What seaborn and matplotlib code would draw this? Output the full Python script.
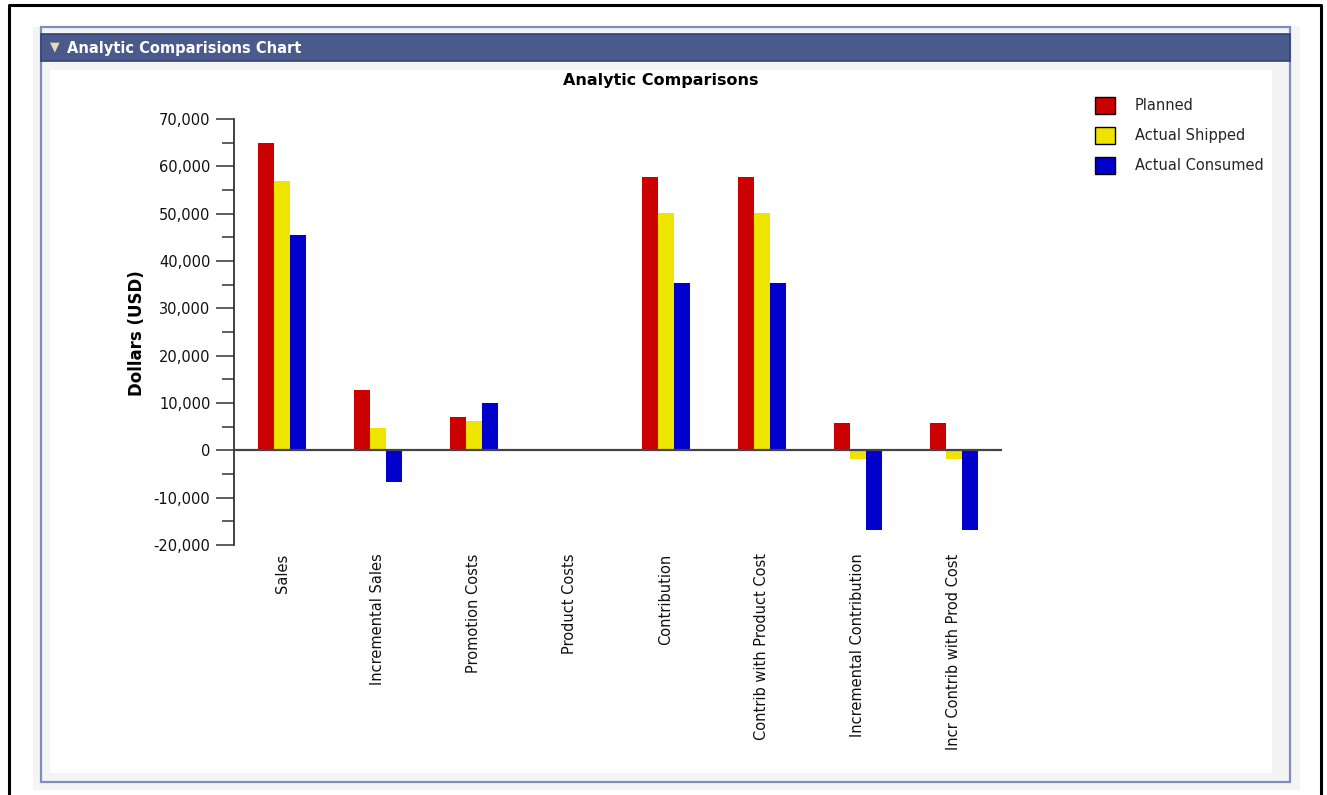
import pandas as pd
import matplotlib
matplotlib.use("Agg")
import matplotlib.pyplot as plt
import seaborn as sns
from matplotlib.patches import Rectangle, Patch
from matplotlib.lines import Line2D
from matplotlib.ticker import MultipleLocator, FuncFormatter

# Data
categories = ["Sales", "Incremental Sales", "Promotion Costs", "Product Costs",
              "Contribution", "Contrib with Product Cost", "Incremental Contribution",
              "Incr Contrib with Prod Cost"]
series = ["Planned", "Actual Shipped", "Actual Consumed"]
planned = [65000, 12800, 7000, 0, 57700, 57700, 5700, 5700]
actual_shipped = [56800, 4700, 6300, 0, 50200, 50200, -1800, -1800]
actual_consumed = [45400, -6700, 9900, 0, 35400, 35400, -16800, -16800]
colors = ["#CC0000", "#EEE400", "#0000CC"]

df = pd.DataFrame({
    "category": categories * 3,
    "series": [s for s in series for _ in categories],
    "value": planned + actual_shipped + actual_consumed,
})

W, H = 1327, 795
sns.set_theme(style="white")
plt.rcParams["font.family"] = ["DejaVu Sans"]

fig = plt.figure(figsize=(W / 100, H / 100), dpi=100)
fig.patch.set_facecolor("white")


def box(x0, y0, x1, y1):
    # pixel box (top-left origin) -> figure fraction
    return (x0 / W, 1 - y1 / H), (x1 - x0) / W, (y1 - y0) / H


def add_rect(x0, y0, x1, y1, z, **kw):
    xy, w, h = box(x0, y0, x1, y1)
    fig.patches.append(Rectangle(xy, w, h, transform=fig.transFigure, zorder=z, **kw))


def add_line(xs, ys, **kw):
    fig.lines.append(Line2D([x / W for x in xs], [1 - y / H for y in ys],
                            transform=fig.transFigure, zorder=-1, **kw))


# page frame
add_line([9, 9, 1321, 1321], [795, 5, 5, 795], color="black", lw=2.2)
add_rect(33, 27, 1300, 790, -5, facecolor="#f4f4f4", edgecolor="none")
add_rect(41, 27, 1290, 782, -4, facecolor="#f4f4f4", edgecolor="#7f8dbd", lw=1.6)
add_rect(41, 34, 1290, 61, -3, facecolor="#4a5a8c", edgecolor="#34436f", lw=1.2)
add_rect(50, 70, 1272, 773, -2, facecolor="white", edgecolor="none")
fig.text(55 / W, 1 - 47 / H, "\u25bc", color="#e6ddb5", fontsize=9, ha="center", va="center")
fig.text(67 / W, 1 - 48 / H, "Analytic Comparisions Chart", color="white",
         fontsize=10.5, fontweight="bold", ha="left", va="center")

# axes
ax = fig.add_axes([234 / W, 1 - 545 / H, 768 / W, 426 / H])
ax.set_facecolor("none")
sns.barplot(data=df, x="category", y="value", hue="series", order=categories,
            hue_order=series, palette=colors, width=0.494, saturation=1,
            linewidth=0, legend=False, ax=ax)

ax.set_xlim(-0.5, 7.5)
ax.set_ylim(-20000, 70000)
ax.yaxis.set_major_locator(MultipleLocator(10000))
ax.yaxis.set_minor_locator(MultipleLocator(5000))
ax.yaxis.set_major_formatter(FuncFormatter(lambda v, p: f"{v:,.0f}"))
ax.tick_params(axis="y", which="major", left=True, length=12.7, width=1.1,
               color="#333333", labelsize=10.5, labelcolor="#111111", pad=4.3)
ax.tick_params(axis="y", which="minor", left=True, length=9, width=1.1, color="#333333")
ax.tick_params(axis="x", length=0, labelsize=10.5, labelcolor="#111111", pad=6,
               labelrotation=90)
ax.set_xlabel("")
ax.set_ylabel("")
for s in ["top", "right", "bottom"]:
    ax.spines[s].set_visible(False)
ax.spines["left"].set_color("#333333")
ax.spines["left"].set_linewidth(1.3)
ax.axhline(0, color="#444444", lw=1.6, zorder=3)

fig.text(661 / W, 1 - 81 / H, "Analytic Comparisons", fontsize=11.5,
         fontweight="bold", ha="center", va="center", color="black")
fig.text(137 / W, 1 - 333 / H, "Dollars (USD)", fontsize=12, fontweight="bold",
         rotation=90, ha="center", va="center", color="black")

handles = [Patch(facecolor=c, edgecolor="black", lw=1) for c in colors]
ax.legend(handles, series, loc="upper left", bbox_to_anchor=(1095 / W, 1 - 97 / H),
          bbox_transform=fig.transFigure, frameon=False, fontsize=10.5,
          handlelength=1.37, handleheight=1.37, labelspacing=0.92,
          handletextpad=1.37, borderpad=0, borderaxespad=0)

fig.savefig("out.png", dpi=100)
